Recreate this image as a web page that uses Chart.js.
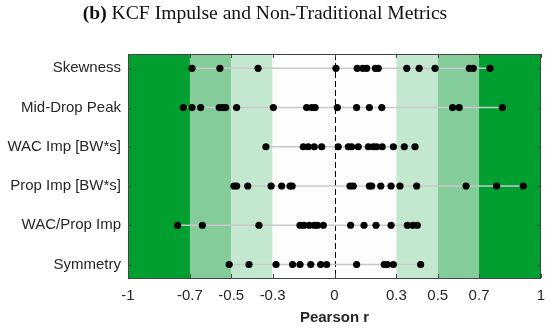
<!DOCTYPE html>
<html>
<head>
<meta charset="utf-8">
<script src="https://cdn.jsdelivr.net/npm/chart.js@4.4.1/dist/chart.umd.min.js"></script>
<style>
html, body { margin: 0; padding: 0; background: #fff; }
canvas { display: block; }
</style>
</head>
<body>
<canvas id="chart" width="550" height="328"></canvas>
<script>
// metric names, top row first
const metrics = ['Skewness', 'Mid-Drop Peak', 'WAC Imp [BW*s]', 'Prop Imp [BW*s]', 'WAC/Prop Imp', 'Symmetry'];

// Pearson r values per metric
const skewness = [-0.69, -0.555, -0.37, 0.007, 0.11, 0.137, 0.156, 0.198, 0.212, 0.35, 0.41, 0.487, 0.653, 0.672, 0.753];
const midDropPeak = [-0.732, -0.69, -0.648, -0.558, -0.541, -0.527, -0.474, -0.296, -0.135, -0.11, -0.094, 0.014, 0.107, 0.169, 0.229, 0.572, 0.604, 0.813];
const wacImp = [-0.332, -0.151, -0.127, -0.098, -0.062, 0.018, 0.067, 0.083, 0.115, 0.164, 0.188, 0.204, 0.231, 0.285, 0.338, 0.39];
const propImp = [-0.487, -0.474, -0.42, -0.307, -0.256, -0.215, -0.205, 0.075, 0.091, 0.169, 0.18, 0.224, 0.274, 0.317, 0.398, 0.637, 0.785, 0.914];
const wacPropImp = [-0.76, -0.64, -0.366, -0.167, -0.148, -0.122, -0.098, -0.083, -0.054, 0.078, 0.143, 0.201, 0.274, 0.353, 0.379, 0.401];
const symmetry = [-0.51, -0.414, -0.283, -0.203, -0.167, -0.115, -0.067, -0.038, 0.107, 0.241, 0.256, 0.285, 0.417];

const rValues = [skewness, midDropPeak, wacImp, propImp, wacPropImp, symmetry];
const xTicks = [-1, -0.7, -0.5, -0.3, 0, 0.3, 0.5, 0.7, 1];

// correlation strength bands
const bands = [
    { from: -1, to: -0.7, color: '#009f30' },
    { from: -0.7, to: -0.5, color: '#84cd9b' },
    { from: -0.5, to: -0.3, color: '#c4e7cf' },
    { from: -0.3, to: 0.3, color: '#fcfefc' },
    { from: 0.3, to: 0.5, color: '#c4e7cf' },
    { from: 0.5, to: 0.7, color: '#84cd9b' },
    { from: 0.7, to: 1, color: '#009f30' },
];

const textColor = '#262626';
const sans = '"Liberation Sans", Arial, sans-serif';

const datasets = rValues.map((vals, i) => ({
    label: metrics[i],
    data: vals.slice().sort((a, b) => a - b).map(v => ({ x: v, y: metrics.length - i })),
    showLine: true,
    borderColor: '#c8c8c8',
    borderWidth: 1.5,
    pointRadius: 3.6,
    pointBorderWidth: 0,
    pointBackgroundColor: '#000',
    pointHoverRadius: 3.6,
}));

const backdrop = {
    id: 'backdrop',
    beforeDatasetsDraw(chart) {
        const { ctx, chartArea: a, scales: { x } } = chart;
        ctx.save();
        bands.forEach(b => {
            const x0 = x.getPixelForValue(b.from);
            const x1 = x.getPixelForValue(b.to);
            ctx.fillStyle = b.color;
            ctx.fillRect(x0, a.top, x1 - x0, a.bottom - a.top);
        });
        const zx = Math.round(x.getPixelForValue(0)) + 0.5;
        ctx.strokeStyle = '#000';
        ctx.lineWidth = 1;
        ctx.setLineDash([6, 3]);
        ctx.beginPath();
        ctx.moveTo(zx, a.top);
        ctx.lineTo(zx, a.bottom);
        ctx.stroke();
        ctx.restore();
    },
    afterDatasetsDraw(chart) {
        const { ctx, chartArea: a, scales: { x, y } } = chart;
        ctx.save();
        ctx.strokeStyle = '#444';
        ctx.lineWidth = 1;
        ctx.beginPath();
        xTicks.forEach(v => {
            const px = Math.round(x.getPixelForValue(v)) + 0.5;
            ctx.moveTo(px, a.bottom); ctx.lineTo(px, a.bottom - 4);
            ctx.moveTo(px, a.top); ctx.lineTo(px, a.top + 4);
        });
        metrics.forEach((m, i) => {
            const py = Math.round(y.getPixelForValue(i + 1)) + 0.5;
            ctx.moveTo(a.left, py); ctx.lineTo(a.left + 4, py);
            ctx.moveTo(a.right, py); ctx.lineTo(a.right - 4, py);
        });
        ctx.stroke();
        ctx.strokeRect(Math.round(a.left) + 0.5, Math.round(a.top) + 0.5,
            Math.round(a.right - a.left) - 1, Math.round(a.bottom - a.top));
        ctx.restore();
    },
    afterDraw(chart) {
        const ctx = chart.ctx;
        const boldPart = '(b)';
        const rest = ' KCF Impulse and Non-Traditional Metrics';
        const size = 19.6;
        ctx.save();
        ctx.fillStyle = '#111';
        ctx.textBaseline = 'alphabetic';
        ctx.font = `bold ${size}px "Liberation Serif", serif`;
        const w1 = ctx.measureText(boldPart).width;
        ctx.font = `${size}px "Liberation Serif", serif`;
        const w2 = ctx.measureText(rest).width;
        const left = 265 - (w1 + w2) / 2;
        ctx.font = `bold ${size}px "Liberation Serif", serif`;
        ctx.fillText(boldPart, left, 19);
        ctx.font = `${size}px "Liberation Serif", serif`;
        ctx.fillText(rest, left + w1, 19);
        ctx.restore();
    }
};

new Chart(document.getElementById('chart').getContext('2d'), {
    type: 'scatter',
    data: { datasets },
    options: {
        responsive: false,
        animation: false,
        layout: { padding: { top: 54, right: 9, bottom: 1.5, left: 0 } },
        plugins: {
            legend: { display: false },
            tooltip: { enabled: false },
        },
        scales: {
            x: {
                type: 'linear',
                min: -1,
                max: 1,
                afterBuildTicks: s => { s.ticks = xTicks.map(v => ({ value: v })); },
                afterFit: s => { s.height = 48.5; s.paddingLeft = 0; s.paddingRight = 0; },
                grid: { display: false, drawTicks: false },
                border: { display: false },
                ticks: {
                    padding: 9,
                    color: textColor,
                    font: { family: sans, size: 15 },
                    callback: v => String(v),
                },
                title: {
                    display: true,
                    text: 'Pearson r',
                    color: textColor,
                    padding: 0,
                    font: { family: sans, size: 15, weight: 'bold' },
                },
            },
            y: {
                type: 'linear',
                min: 0.656,
                max: 6.364,
                afterBuildTicks: s => { s.ticks = metrics.map((m, i) => ({ value: i + 1 })); },
                afterFit: s => { s.width = 128; s.paddingTop = 0; s.paddingBottom = 0; },
                grid: { display: false, drawTicks: false },
                border: { display: false },
                ticks: {
                    padding: 7,
                    color: textColor,
                    font: { family: sans, size: 15 },
                    callback: v => metrics[metrics.length - v],
                },
            },
        },
    },
    plugins: [backdrop],
});
</script>
</body>
</html>
